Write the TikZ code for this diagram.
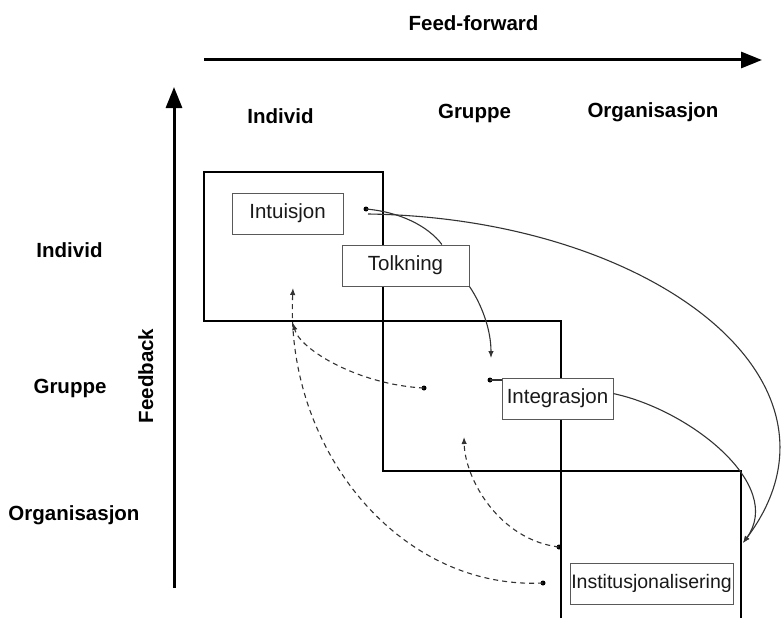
\documentclass[tikz,border=0pt]{standalone}
\usepackage{fontspec}
\setmainfont{Liberation Sans}
\usetikzlibrary{arrows.meta}
\begin{document}
\begin{tikzpicture}[x=1pt,y=-1pt,
  axis/.style={line width=3pt,-{Triangle[length=21pt,width=16pt]}},
  zone/.style={line width=2.4pt},
  lbl/.style={font=\fontsize{20.5}{24}\selectfont\bfseries,anchor=base,inner sep=0pt},
  stage/.style={draw=black!65,line width=1pt,fill=white,minimum height=41pt,
    inner sep=0pt,font=\fontsize{20.5}{24}\selectfont,text=black!90},
  link/.style={draw=black!80,line width=1.1pt},
  flow/.style={link,-{Latex[length=7pt,width=5.5pt]}},
  back/.style={flow,dash pattern=on 5pt off 4pt},
  dot/.style={circle,fill=black,inner sep=0pt,minimum size=5pt}
]
\useasboundingbox (0,0) rectangle (781,618);

% axes
\coordinate (ffs) at (204,60);
\coordinate (ffe) at (762,60);
\coordinate (fbs) at (174,588);
\coordinate (fbe) at (174,87);
\draw[axis] (ffs) -- (ffe);
\draw[axis] (fbs) -- (fbe);

% axis titles and level labels
\node[lbl] (ff) at (473.5,31) {Feed-forward};
\node[lbl,rotate=90] (fb) at (153,376) {Feedback};
\node[lbl] (cI) at (280.5,123) {Individ};
\node[lbl] (cG) at (474.5,118) {Gruppe};
\node[lbl] (cO) at (653,117) {Organisasjon};
\node[lbl] (rI) at (69.5,257) {Individ};
\node[lbl] (rG) at (70,393) {Gruppe};
\node[lbl] (rO) at (74,520) {Organisasjon};

% level zones
\draw[zone] (204,172) rectangle (383,321);
\draw[zone] (383,321) rectangle (561,471);
\draw[zone] (561,618) -- (561,471) -- (741,471) -- (741,618);

% process stages
\node[stage,minimum width=111pt] (intu) at (287.5,213.5) {Intuisjon};
\node[stage,minimum width=127pt] (tolk) at (405.5,265.5) {Tolkning};
\node[stage,minimum width=111pt] (integ) at (557.5,398.5) {Integrasjon};
\node[stage,minimum width=163pt,font=\fontsize{19.5}{23}\selectfont] (inst) at (651.5,583.5) {Institusjonalisering};

% connector ends
\node[dot] (d1) at (366,209) {};
\coordinate (s2) at (368,214);
\coordinate (a1) at (491,358);
\node[dot] (d2) at (490,380) {};
\coordinate (i3) at (743,543);
\node[dot] (d3) at (424,388) {};
\coordinate (a3) at (293,323);
\node[dot] (d4) at (543,583) {};
\coordinate (a4) at (293,288);
\node[dot] (d5) at (559,547) {};
\coordinate (a5) at (464,437);

% feed-forward flows
\draw[link] (d1.center) .. controls (400,212) and (428,226) .. (tolk.30);
\draw[flow] (s2) .. controls (650,218) and (865,380) .. (i3);
\draw[flow] (tolk.south east) .. controls (482,305) and (491,330) .. (a1);
\draw[link] (d2.center) -- (d2 -| integ.west);
\draw[flow] (integ.5) .. controls (690,410) and (785,485) .. (i3);

% feedback flows
\draw[back] (d3.center) .. controls (360,385) and (300,350) .. (a3);
\draw[back] (d4.center) .. controls (400,590) and (285,450) .. (a4);
\draw[back] (d5.center) .. controls (500,540) and (465,480) .. (a5);
\end{tikzpicture}
\end{document}
